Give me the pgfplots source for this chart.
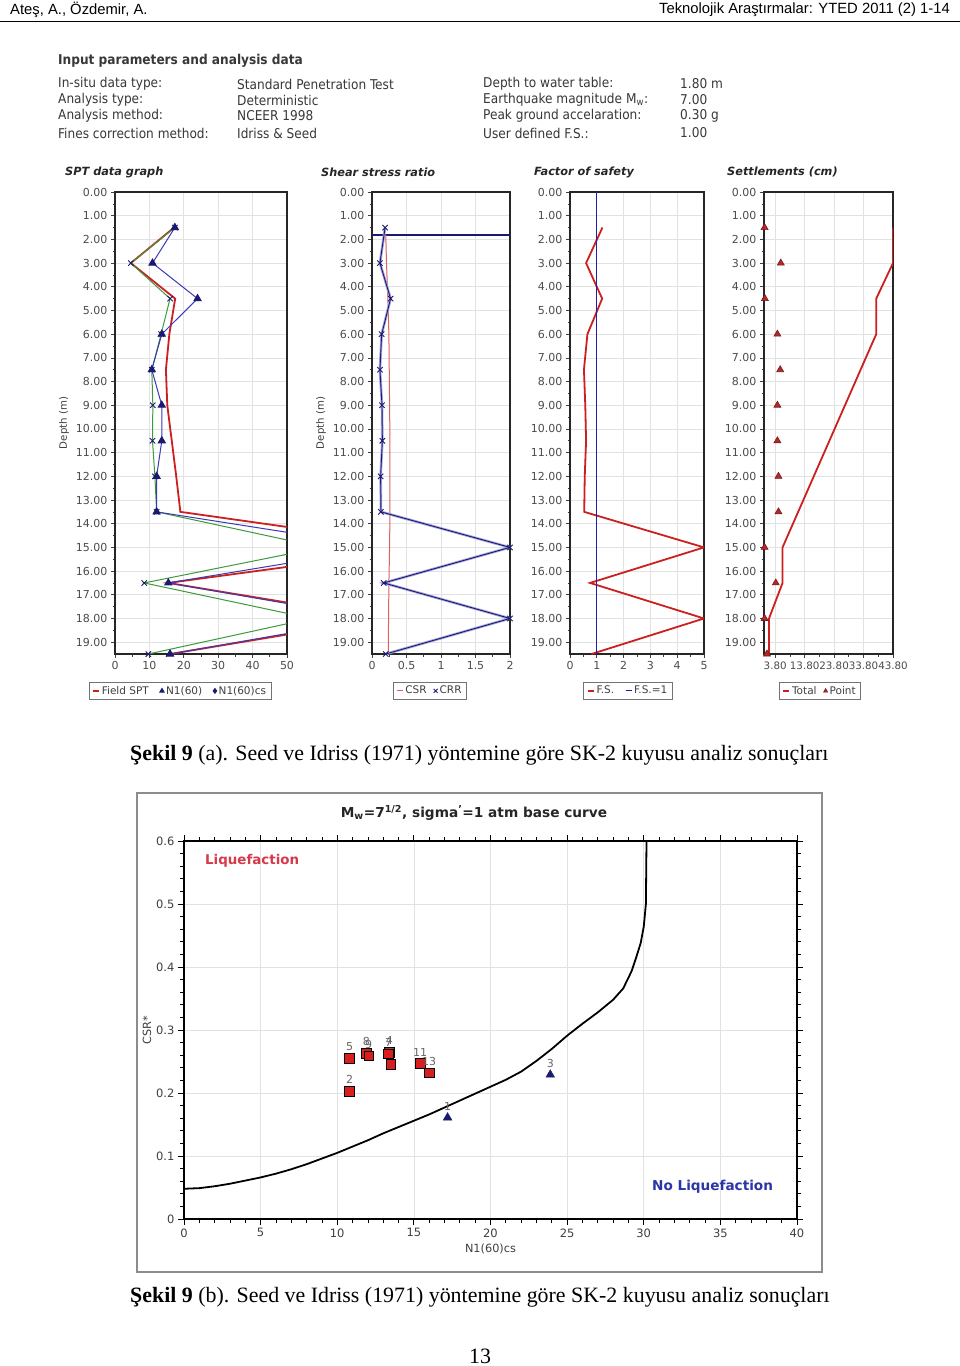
\documentclass[border=0pt]{standalone}
\usepackage{fontspec}
\setmainfont{DejaVu Sans}
\newfontfamily\condf{DejaVu Sans Condensed}
\newfontfamily\hdrf{Liberation Sans}
\newfontfamily\capf{Liberation Serif}
\usepackage{pgfplots}
\pgfplotsset{compat=1.18}

\definecolor{spred}{HTML}{CC2020}
\definecolor{spgreen}{HTML}{3C9A3C}
\definecolor{spblue}{HTML}{3A3AB4}
\definecolor{navy}{HTML}{1A1A70}
\definecolor{gridc}{HTML}{E2E2E2}
\definecolor{csrred}{HTML}{E06060}
\definecolor{liqred}{HTML}{D43A4A}
\definecolor{noliqblue}{HTML}{2A36A8}
\definecolor{sqred}{HTML}{D81E1E}
\definecolor{darkred}{HTML}{7A1818}
\definecolor{ptred}{HTML}{B02A2A}
\definecolor{fsblue}{HTML}{2020A0}

\pgfplotsset{
  panel/.style={
    scale only axis, height=462pt, anchor=north west,
    y dir=reverse, ymin=0, ymax=19.5, ytick={0,1,...,19}, minor y tick num=1,
    yticklabel style={/pgf/number format/fixed,/pgf/number format/fixed zerofill,/pgf/number format/precision=2},
    /pgf/number format/assume math mode=true,
    grid=major, major grid style={gridc, line width=0.7pt},
    tick align=outside, xtick pos=bottom, ytick pos=left,
    major tick length=4pt, minor tick length=2.5pt,
    every tick/.style={black!75, line width=0.7pt},
    axis line style={black!85, line width=1.3pt},
    tick label style={font=\fontsize{11}{12}\selectfont, text=black!70},
    label style={font=\fontsize{10.2}{11}\selectfont, text=black!75},
    legend style={anchor=north, legend columns=-1, draw=black!55, line width=0.9pt,
      font=\fontsize{10.5}{11}\selectfont, text=black!75, inner xsep=3pt, inner ysep=2pt,
      /tikz/every even column/.append style={column sep=9pt}},
  },
  dashleg/.style={legend image code/.code={\draw[##1] (0pt,0pt) -- (6pt,0pt);}},
}

\begin{document}
\begin{tikzpicture}
\path[use as bounding box, fill=white] (0pt,0pt) rectangle (960pt,-1366pt);

% ---------- page header ----------
\node[anchor=west, inner sep=0, font=\hdrf\fontsize{14.8}{16}\selectfont] at (10pt,-10pt) {Ateş, A., Özdemir, A.};
\node[anchor=east, inner sep=0, font=\hdrf\fontsize{14.8}{16}\selectfont] at (950pt,-10pt) {Teknolojik Araştırmalar: YTED 2011 (2) 1-14};
\draw[black, line width=1pt] (0pt,-21pt) -- (960pt,-21pt);

% ---------- input parameters ----------
\begin{scope}[every node/.style={anchor=west, inner sep=0, text=black!78, font=\condf\fontsize{13.5}{15}\selectfont}]
\node[font=\condf\bfseries\fontsize{13.5}{15}\selectfont] at (58pt,-61pt) {Input parameters and analysis data};
\node at (58pt,-84pt) {In-situ data type:};
\node at (58pt,-100pt) {Analysis type:};
\node at (58pt,-116pt) {Analysis method:};
\node at (58pt,-133pt) {Fines correction method:};
\node at (237pt,-84pt) {Standard Penetration Test};
\node at (237pt,-100pt) {Deterministic};
\node at (237pt,-116pt) {NCEER 1998};
\node at (237pt,-133pt) {Idriss \& Seed};
\node at (483pt,-84pt) {Depth to water table:};
\node at (483pt,-100pt) {Earthquake magnitude M\textsubscript{w}:};
\node at (483pt,-116pt) {Peak ground accelaration:};
\node at (483pt,-133pt) {User defined F.S.:};
\node at (680pt,-84pt) {1.80 m};
\node at (680pt,-100pt) {7.00};
\node at (680pt,-116pt) {0.30 g};
\node at (680pt,-133pt) {1.00};
\end{scope}

% ---------- panel titles ----------
\begin{scope}[every node/.style={anchor=west, inner sep=0, text=black!85, font=\bfseries\itshape\fontsize{11.3}{13}\selectfont}]
\node at (65pt,-172pt) {SPT data graph};
\node at (321pt,-172pt) {Shear stress ratio};
\node at (534pt,-172pt) {Factor of safety};
\node at (727pt,-172pt) {Settlements (cm)};
\end{scope}

% ---------- SPT data graph ----------
\begin{axis}[panel, at={(115pt,-192pt)}, width=172pt,
  xmin=0, xmax=50, xtick={0,10,...,50}, minor x tick num=1,
  ylabel={Depth (m)},
  legend style={at={(0.378,-0.06)}}]
\addplot[spred, line width=1.8pt, dashleg] table[x=r, y=d] {
d r
1.5 17.2
3.0 4.6
4.5 17.5
6.0 15.8
7.5 14.8
9.0 15.2
10.5 16.5
12.0 17.8
13.5 19.0
15.0 92
16.5 15.5
18.0 78
19.5 16
};
\addlegendentry{Field SPT}
\addplot[spgreen, line width=1pt, mark=x, mark size=3.8pt, mark options={navy, line width=0.9pt},
  legend image code/.code={\draw[navy, fill=navy] plot[mark=triangle*, mark size=2.5pt] coordinates {(3pt,0pt)};}]
  table[x=g, y=d] {
d g
1.5 17.4
3.0 4.6
4.5 16.0
6.0 13.4
7.5 10.7
9.0 11.0
10.5 10.9
12.0 11.6
13.5 12.1
15.0 60
16.5 8.5
18.0 57
19.5 9.7
};
\addlegendentry{N1(60)}
\addplot[spblue, line width=1pt, mark=triangle*, mark size=4pt, mark options={navy, fill=navy},
  legend image code/.code={\draw[navy, fill=navy] plot[mark=diamond*, mark size=2.3pt] coordinates {(3pt,0pt)};}]
  table[x=b, y=d] {
d b
1.5 17.4
3.0 10.9
4.5 24.0
6.0 13.6
7.5 10.7
9.0 13.6
10.5 13.6
12.0 12.1
13.5 12.1
15.0 78
16.5 15.5
18.0 75
19.5 16
};
\addlegendentry{N1(60)cs}
\end{axis}

% ---------- Shear stress ratio ----------
\begin{axis}[panel, at={(372pt,-192pt)}, width=138pt,
  xmin=0, xmax=2, xtick={0,0.5,1,1.5,2}, minor x tick num=1,
  ylabel={Depth (m)},
  legend style={at={(0.42,-0.06)}, /tikz/every even column/.append style={column sep=5pt}}]
\addplot[navy, line width=2pt, forget plot] coordinates {(0,1.8) (2,1.8)};
\addplot[csrred, line width=1pt, dashleg] coordinates {
(0.20,1.8) (0.21,3.0) (0.23,4.5) (0.245,6.0) (0.25,7.5) (0.255,9.0) (0.26,10.5)
(0.26,12.0) (0.26,13.5) (0.255,15.0) (0.245,16.5) (0.24,18.0) (0.235,19.5)};
\addlegendentry{CSR}
\addplot[spblue!45, line width=2.6pt, forget plot] coordinates {
(0.19,1.5) (0.115,3.0) (0.27,4.5) (0.14,6.0) (0.115,7.5) (0.145,9.0) (0.15,10.5)
(0.125,12.0) (0.13,13.5) (2.0,15.0) (0.17,16.5) (2.0,18.0) (0.2,19.5)};
\addplot[navy, line width=0.9pt, mark=x, mark size=3.8pt, mark options={navy, line width=0.9pt},
  legend image code/.code={\draw[navy, line width=0.9pt] plot[mark=x, mark size=2.8pt] coordinates {(3pt,0pt)};}]
  coordinates {
(0.19,1.5) (0.115,3.0) (0.27,4.5) (0.14,6.0) (0.115,7.5) (0.145,9.0) (0.15,10.5)
(0.125,12.0) (0.13,13.5) (2.0,15.0) (0.17,16.5) (2.0,18.0) (0.2,19.5)};
\addlegendentry{CRR}
\end{axis}

% ---------- Factor of safety ----------
\begin{axis}[panel, at={(570pt,-192pt)}, width=134pt,
  xmin=0, xmax=5, xtick={0,1,...,5}, minor x tick num=1,
  legend style={at={(0.433,-0.06)}}]
\addplot[spred, line width=1.8pt, dashleg] coordinates {
(1.21,1.5) (0.6,3.0) (1.2,4.5) (0.65,6.0) (0.52,7.5) (0.57,9.0) (0.6,10.5)
(0.55,12.0) (0.53,13.5) (5.0,15.0) (0.75,16.5) (5.0,18.0) (0.8,19.5)};
\addlegendentry{F.S.}
\addplot[fsblue, line width=0.9pt, dashleg] coordinates {(1,0) (1,19.5)};
\addlegendentry{F.S.=1}
\end{axis}

% ---------- Settlements ----------
\begin{axis}[panel, at={(764pt,-192pt)}, width=129pt,
  xmin=0, xmax=43.8, xtick={3.8,13.8,23.8,33.8,43.8}, minor x tick num=1,
  xticklabel style={font=\fontsize{10.3}{12}\selectfont, /pgf/number format/fixed,/pgf/number format/fixed zerofill,/pgf/number format/precision=2},
  legend style={at={(0.434,-0.06)}, /tikz/every even column/.append style={column sep=5pt}}]
\addplot[spred, line width=1.8pt, dashleg] coordinates {
(43.8,1.5) (43.8,3.0) (38.1,4.5) (38.1,6.0) (6.3,15.0) (6.3,16.5) (1.7,18.0) (1.7,19.5)};
\addlegendentry{Total}
\addplot[only marks, mark=triangle*, mark size=4pt, mark options={fill=ptred, draw=darkred, line width=0.6pt},
  legend image code/.code={\draw[fill=darkred, draw=darkred] plot[mark=triangle*, mark size=2.3pt] coordinates {(3pt,0pt)};}]
  coordinates {
(0.2,1.5) (5.7,3.0) (0.3,4.5) (4.55,6.0) (5.5,7.5) (4.55,9.0) (4.55,10.5)
(4.9,12.0) (4.9,13.5) (0.2,15.0) (4.0,16.5) (0.2,18.0) (1.0,19.5)};
\addlegendentry{Point}
\end{axis}

% ---------- caption (a) ----------
\node[anchor=west, inner sep=0, font=\capf\fontsize{21.9}{25}\selectfont] at (130pt,-755pt)
  {\textbf{Şekil 9} (a). Seed ve Idriss (1971) yöntemine göre SK-2 kuyusu analiz sonuçları};

% ---------- bottom chart ----------
\draw[black!45, line width=1.5pt] (137pt,-793pt) rectangle (822pt,-1272pt);
\node[inner sep=0, font=\bfseries\fontsize{13.7}{15}\selectfont, text=black!85] at (474pt,-813pt)
  {M\textsubscript{w}=7\textsuperscript{1/2}, sigma\textsuperscript{'}=1 atm base curve};

\begin{axis}[scale only axis, at={(184pt,-1219pt)}, anchor=south west, width=613pt, height=378pt,
  xmin=0, xmax=40, ymin=0, ymax=0.6,
  xtick={0,5,...,40}, ytick={0,0.1,0.2,0.3,0.4,0.5,0.6},
  minor x tick num=4, minor y tick num=4,
  /pgf/number format/assume math mode=true,
  tick align=outside, grid=major, major grid style={gridc, line width=0.7pt},
  axis line style={black, line width=1.6pt},
  every tick/.style={black, line width=0.8pt},
  major tick length=6pt, minor tick length=4pt,
  tick label style={font=\fontsize{11.5}{13}\selectfont, text=black!75},
  xlabel={N1(60)cs}, ylabel={CSR*},
  label style={font=\fontsize{11.3}{12}\selectfont, text=black!75},
  ylabel style={yshift=-2pt},
  ]
\addplot[black, line width=1.8pt] coordinates {
(0,0.048) (1,0.049) (2,0.052) (3,0.056) (4,0.061) (5,0.066) (6,0.072) (7,0.079)
(8,0.087) (9,0.096) (10,0.105) (11,0.115) (12,0.125) (13,0.136) (14,0.146) (15,0.156)
(16,0.166) (17,0.177) (18,0.188) (19,0.199) (20,0.21) (21,0.221) (22,0.234) (23,0.251)
(24,0.27) (25,0.291) (26,0.31) (27,0.328) (28,0.348) (28.66,0.366) (29.2,0.393)
(29.53,0.417) (29.8,0.438) (30.0,0.464) (30.14,0.5) (30.18,0.6)};
\addplot[only marks, mark=square*, mark size=4.8pt, mark options={fill=sqred, draw=black, line width=0.6pt},
  nodes near coords, point meta=explicit symbolic,
  every node near coord/.append style={font=\fontsize{11}{12}\selectfont, text=black!60, inner sep=1pt, yshift=6pt}]
  table[meta=lab] {
x y lab
10.8 0.203 2
10.8 0.255 5
13.4 0.265 4
13.5 0.246 6
13.35 0.262 7
11.9 0.263 8
12.05 0.259 9
15.4 0.247 11
16.0 0.232 13
};
\addplot[only marks, mark=triangle*, mark size=5pt, mark options={fill=navy, draw=navy},
  nodes near coords, point meta=explicit symbolic,
  every node near coord/.append style={font=\fontsize{11}{12}\selectfont, text=black!60, inner sep=1pt, yshift=6pt}]
  table[meta=lab] {
x y lab
17.2 0.161 1
23.9 0.229 3
};
\end{axis}
\node[anchor=west, inner sep=0, font=\bfseries\fontsize{13.4}{15}\selectfont, text=liqred] at (205pt,-861pt) {Liquefaction};
\node[anchor=west, inner sep=0, font=\bfseries\fontsize{13.6}{15}\selectfont, text=noliqblue] at (652pt,-1187pt) {No Liquefaction};

% ---------- caption (b) ----------
\node[anchor=west, inner sep=0, font=\capf\fontsize{21.9}{25}\selectfont] at (130pt,-1297pt)
  {\textbf{Şekil 9} (b). Seed ve Idriss (1971) yöntemine göre SK-2 kuyusu analiz sonuçları};
\node[inner sep=0, font=\capf\fontsize{21.9}{25}\selectfont] at (480pt,-1356pt) {13};
\end{tikzpicture}
\end{document}
